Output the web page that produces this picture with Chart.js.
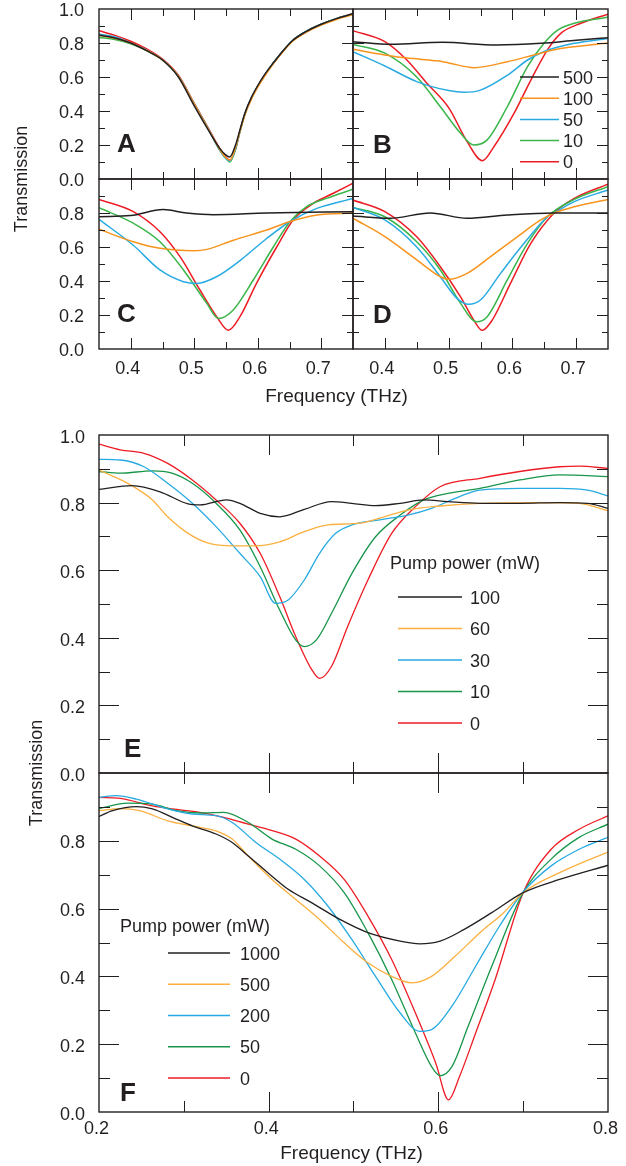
<!DOCTYPE html>
<html><head><meta charset="utf-8">
<script src="https://cdn.jsdelivr.net/npm/chart.js@4/dist/chart.umd.min.js"></script>
<style>
html,body{margin:0;padding:0;background:#fff;width:626px;height:1166px;overflow:hidden}
canvas{position:absolute;left:0;top:0}
</style></head>
<body>
<canvas id="pA" width="626" height="1166"></canvas>
<canvas id="pB" width="626" height="1166"></canvas>
<canvas id="pC" width="626" height="1166"></canvas>
<canvas id="pD" width="626" height="1166"></canvas>
<canvas id="pE" width="626" height="1166"></canvas>
<canvas id="pF" width="626" height="1166"></canvas>
<script>
// ---------- tick labels ----------
const yTickVals = [0.1,0.2,0.3,0.4,0.5,0.6,0.7,0.8,0.9];
const yLabelVals = [0,0.2,0.4,0.6,0.8,1.0];
const yLabelTexts = ['0.0','0.2','0.4','0.6','0.8','1.0'];
const topXTicks = [0.40,0.45,0.50,0.55,0.60,0.65,0.70];
const topXLabelVals = [0.4,0.5,0.6,0.7];
const topXLabelTexts = ['0.4','0.5','0.6','0.7'];
const botXTicks = [0.3,0.4,0.5,0.6,0.7];
const botXLabelVals = [0.2,0.4,0.6,0.8];
const botXLabelTexts = ['0.2','0.4','0.6','0.8'];

// ---------- legends ----------
const legendTop = ['500','100','50','10','0'];
const legendE = ['100','60','30','10','0'];
const legendF = ['1000','500','200','50','0'];

// ---------- panel A (shared frequency grid, THz) ----------
const fA   = [0.35,0.375,0.40,0.425,0.45,0.475,0.50,0.525,0.54,0.55,0.556,0.565,0.572,0.58,0.59,0.60,0.61,0.625,0.64,0.655,0.675,0.70,0.725,0.75];
const tA500= [0.847,0.83,0.80,0.755,0.70,0.60,0.43,0.27,0.18,0.14,0.13,0.20,0.29,0.39,0.48,0.55,0.61,0.685,0.755,0.815,0.865,0.91,0.945,0.972];
const tA100= [0.845,0.828,0.80,0.757,0.70,0.605,0.44,0.275,0.175,0.125,0.11,0.185,0.28,0.38,0.47,0.54,0.60,0.68,0.75,0.81,0.86,0.905,0.94,0.968];
const tA50 = [0.853,0.835,0.80,0.758,0.70,0.605,0.44,0.275,0.17,0.12,0.105,0.18,0.28,0.385,0.475,0.545,0.605,0.685,0.755,0.815,0.865,0.91,0.945,0.97];
const tA10 = [0.833,0.82,0.795,0.755,0.70,0.605,0.44,0.275,0.17,0.12,0.10,0.175,0.28,0.385,0.475,0.545,0.605,0.685,0.755,0.815,0.865,0.91,0.945,0.97];
const tA0  = [0.872,0.845,0.81,0.765,0.705,0.61,0.445,0.28,0.18,0.13,0.11,0.175,0.28,0.385,0.475,0.545,0.605,0.685,0.755,0.815,0.865,0.91,0.945,0.972];

// ---------- panel B ----------
const fB500=[0.35,0.41,0.49,0.575,0.645,0.70,0.75];
const tB500=[0.808,0.792,0.804,0.788,0.798,0.816,0.831];
const fB100=[0.35,0.40,0.424,0.455,0.482,0.50,0.54,0.592,0.634,0.666,0.697,0.75];
const tB100=[0.763,0.73,0.716,0.705,0.695,0.683,0.655,0.69,0.73,0.76,0.778,0.80];
const fB50 =[0.35,0.40,0.45,0.50,0.524,0.55,0.592,0.624,0.65,0.697,0.75];
const tB50 =[0.749,0.665,0.573,0.52,0.51,0.523,0.61,0.70,0.75,0.798,0.827];
const fB10 =[0.35,0.40,0.45,0.487,0.5185,0.5395,0.5605,0.592,0.6235,0.65,0.671,0.697,0.75];
const tB10 =[0.792,0.74,0.60,0.425,0.27,0.20,0.23,0.425,0.66,0.80,0.876,0.916,0.951];
const fB0  =[0.35,0.40,0.4345,0.466,0.50,0.529,0.553,0.571,0.6025,0.629,0.655,0.676,0.7075,0.75];
const tB0  =[0.873,0.808,0.70,0.563,0.42,0.22,0.108,0.19,0.386,0.582,0.76,0.857,0.916,0.97];

// ---------- panel C ----------
const fC500=[0.35,0.40,0.451,0.488,0.53,0.614,0.75];
const tC500=[0.778,0.785,0.82,0.80,0.79,0.80,0.808];
const fC100=[0.35,0.404,0.446,0.50,0.52,0.5615,0.614,0.651,0.693,0.75];
const tC100=[0.704,0.631,0.592,0.578,0.586,0.64,0.70,0.75,0.788,0.80];
const fC50 =[0.35,0.404,0.446,0.483,0.504,0.535,0.572,0.614,0.651,0.693,0.75];
const tC50 =[0.763,0.61,0.465,0.396,0.386,0.425,0.52,0.65,0.75,0.827,0.886];
const fC10 =[0.35,0.404,0.446,0.483,0.5195,0.538,0.5615,0.593,0.6245,0.651,0.677,0.7085,0.75];
const tC10 =[0.831,0.74,0.631,0.465,0.27,0.18,0.23,0.406,0.60,0.75,0.837,0.886,0.94];
const fC0  =[0.35,0.404,0.446,0.4776,0.509,0.5353,0.5537,0.572,0.598,0.6298,0.656,0.6875,0.719,0.75];
const tC0  =[0.88,0.808,0.69,0.543,0.347,0.19,0.11,0.19,0.386,0.60,0.76,0.857,0.916,0.975];

// ---------- panel D ----------
const fD500=[0.35,0.408,0.471,0.529,0.592,0.6655,0.75];
const tD500=[0.782,0.769,0.80,0.769,0.788,0.80,0.80];
const fD100=[0.35,0.40,0.45,0.487,0.50,0.529,0.5657,0.6077,0.6445,0.6655,0.697,0.75];
const tD100=[0.769,0.661,0.524,0.425,0.41,0.445,0.543,0.66,0.759,0.80,0.837,0.88];
const fD50 =[0.35,0.40,0.45,0.487,0.513,0.5316,0.55,0.5815,0.618,0.655,0.6655,0.697,0.75];
const tD50 =[0.833,0.759,0.60,0.425,0.298,0.263,0.288,0.445,0.62,0.778,0.80,0.867,0.935];
const fD10 =[0.35,0.40,0.45,0.487,0.5185,0.5437,0.5605,0.592,0.6235,0.655,0.697,0.75];
const tD10 =[0.833,0.778,0.631,0.465,0.27,0.16,0.19,0.406,0.62,0.778,0.88,0.955];
const fD0  =[0.35,0.40,0.45,0.487,0.5185,0.5395,0.5526,0.5684,0.597,0.6287,0.6655,0.697,0.75];
const tD0  =[0.876,0.808,0.66,0.484,0.308,0.17,0.11,0.17,0.386,0.62,0.80,0.886,0.97];

// ---------- panel E ----------
const fE100=[0.2,0.239,0.272,0.305,0.319,0.35,0.366,0.39,0.413,0.442,0.474,0.498,0.526,0.555,0.583,0.611,0.649,0.696,0.743,0.776,0.8];
const tE100=[0.839,0.85,0.832,0.796,0.793,0.808,0.798,0.768,0.758,0.78,0.803,0.798,0.791,0.798,0.808,0.803,0.798,0.798,0.80,0.798,0.783];
const fE60 =[0.2,0.234,0.263,0.281,0.305,0.329,0.357,0.385,0.413,0.442,0.47,0.507,0.536,0.564,0.602,0.649,0.719,0.766,0.8];
const tE60 =[0.896,0.857,0.808,0.758,0.709,0.68,0.672,0.672,0.684,0.714,0.734,0.739,0.758,0.778,0.79,0.798,0.80,0.798,0.776];
const fE30 =[0.2,0.225,0.253,0.281,0.31,0.338,0.366,0.39,0.408,0.423,0.442,0.46,0.479,0.498,0.531,0.564,0.592,0.625,0.649,0.696,0.743,0.776,0.8];
const tE30 =[0.928,0.926,0.906,0.857,0.798,0.729,0.65,0.581,0.502,0.512,0.571,0.65,0.709,0.734,0.749,0.763,0.783,0.818,0.837,0.842,0.842,0.837,0.82];
const fE10 =[0.2,0.225,0.263,0.286,0.31,0.338,0.366,0.39,0.413,0.432,0.442,0.456,0.474,0.498,0.526,0.555,0.583,0.611,0.649,0.696,0.743,0.8];
const tE10 =[0.892,0.887,0.894,0.887,0.857,0.798,0.719,0.61,0.482,0.393,0.374,0.393,0.472,0.59,0.699,0.763,0.808,0.827,0.842,0.867,0.882,0.877];
const fE0  =[0.2,0.225,0.253,0.281,0.31,0.338,0.366,0.39,0.413,0.432,0.451,0.46,0.474,0.493,0.517,0.545,0.573,0.602,0.649,0.696,0.743,0.766,0.8];
const tE0  =[0.973,0.956,0.946,0.916,0.867,0.808,0.739,0.65,0.522,0.403,0.305,0.28,0.315,0.433,0.571,0.709,0.788,0.847,0.872,0.892,0.906,0.908,0.901];

// ---------- panel F ----------
const fF1000=[0.2,0.216,0.244,0.263,0.291,0.31,0.338,0.357,0.376,0.399,0.423,0.451,0.484,0.517,0.555,0.578,0.602,0.63,0.663,0.70,0.743,0.8];
const tF1000=[0.872,0.889,0.901,0.894,0.864,0.844,0.82,0.795,0.755,0.706,0.657,0.617,0.568,0.529,0.504,0.496,0.504,0.538,0.588,0.647,0.686,0.728];
const fF500=[0.2,0.225,0.248,0.281,0.31,0.338,0.357,0.376,0.404,0.432,0.46,0.489,0.517,0.545,0.569,0.592,0.62,0.649,0.677,0.70,0.743,0.8];
const tF500=[0.889,0.895,0.889,0.859,0.844,0.829,0.805,0.755,0.686,0.627,0.568,0.499,0.44,0.40,0.381,0.40,0.46,0.529,0.588,0.647,0.706,0.767];
const fF200=[0.2,0.22,0.244,0.281,0.31,0.338,0.357,0.385,0.413,0.442,0.47,0.498,0.526,0.555,0.578,0.592,0.616,0.644,0.672,0.70,0.733,0.766,0.8];
const tF200=[0.928,0.933,0.923,0.894,0.879,0.874,0.854,0.795,0.746,0.686,0.607,0.509,0.40,0.292,0.238,0.243,0.312,0.43,0.548,0.649,0.726,0.775,0.81];
const fF50 =[0.2,0.234,0.263,0.291,0.319,0.347,0.376,0.404,0.432,0.46,0.489,0.517,0.545,0.573,0.592,0.602,0.616,0.635,0.663,0.70,0.733,0.766,0.8];
const tF50 =[0.895,0.911,0.908,0.889,0.882,0.884,0.854,0.805,0.775,0.726,0.647,0.529,0.391,0.233,0.134,0.107,0.134,0.252,0.43,0.647,0.746,0.81,0.849];
const fF0  =[0.2,0.225,0.263,0.286,0.319,0.347,0.376,0.399,0.432,0.46,0.489,0.517,0.545,0.573,0.597,0.612,0.625,0.644,0.667,0.70,0.733,0.766,0.8];
const tF0  =[0.928,0.925,0.903,0.894,0.884,0.869,0.849,0.834,0.805,0.755,0.686,0.578,0.45,0.292,0.144,0.036,0.105,0.233,0.391,0.647,0.775,0.834,0.874];

// ---------- styling ----------
const INK = '#231f20';
const FONT = '"Liberation Sans", Arial, Helvetica, sans-serif';
const topColors = ['#231f20','#f7941d','#29abe2','#39b54a','#ed1c24'];
const botColors = ['#231f20','#fbb040','#27aae1','#17964a','#ed1c24'];

function near(a, list){ return list.some(v => Math.abs(v - a) < 1e-6); }

const framePlugin = {
  id: 'frame',
  afterDraw(chart, args, o) {
    const ctx = chart.ctx, ca = chart.chartArea, xs = chart.scales.x, ys = chart.scales.y;
    ctx.save();
    ctx.strokeStyle = INK; ctx.lineWidth = 1;
    ctx.beginPath();
    yTickVals.forEach(v => {
      const y = Math.round(ys.getPixelForValue(v)) + 0.5;
      const len = near(v, yLabelVals) ? o.yLong : o.yShort;
      ctx.moveTo(ca.left, y); ctx.lineTo(ca.left + len, y);
      ctx.moveTo(ca.right, y); ctx.lineTo(ca.right - len, y);
    });
    o.xTicks.forEach(v => {
      const x = Math.round(xs.getPixelForValue(v)) + 0.5;
      const len = near(v, o.xMajor) ? o.xLong : o.xShort;
      ctx.moveTo(x, ca.top); ctx.lineTo(x, ca.top + len);
      ctx.moveTo(x, ca.bottom); ctx.lineTo(x, ca.bottom - len);
    });
    ctx.stroke();
    ctx.lineWidth = 1.4;
    ctx.strokeRect(ca.left, ca.top, ca.right - ca.left, ca.bottom - ca.top);

    ctx.fillStyle = INK;
    ctx.font = '18px ' + FONT;
    if (o.yLabels) {
      ctx.textAlign = 'right'; ctx.textBaseline = 'alphabetic';
      yLabelVals.forEach((v, i) => {
        if (v > o.yLabels.max + 1e-6) return;
        ctx.fillText(yLabelTexts[i], o.yLabels.x, ys.getPixelForValue(v) + o.yLabels.dy);
      });
    }
    if (o.xLabels) {
      ctx.textAlign = 'center'; ctx.textBaseline = 'alphabetic';
      o.xLabels.vals.forEach((v, i) => {
        ctx.fillText(o.xLabels.texts[i], xs.getPixelForValue(v) + o.xLabels.dx, o.xLabels.y);
      });
    }
    if (o.legend) {
      const L = o.legend;
      ctx.textAlign = 'left'; ctx.textBaseline = 'alphabetic';
      if (L.title) ctx.fillText(L.title, L.titleX, L.titleY);
      chart.data.datasets.forEach((ds, i) => {
        const y = L.y0 + i * L.dy;
        ctx.strokeStyle = ds.borderColor; ctx.lineWidth = ds.borderWidth;
        ctx.beginPath(); ctx.moveTo(L.x1, y); ctx.lineTo(L.x2, y); ctx.stroke();
        ctx.fillStyle = INK;
        ctx.fillText(ds.label, L.tx, y + 6.5);
      });
    }
    if (o.letter) {
      ctx.font = 'bold 26px ' + FONT;
      ctx.textAlign = 'left'; ctx.textBaseline = 'alphabetic';
      ctx.fillText(o.letter.text, ca.left + o.letter.dx, ca.bottom - o.letter.dy);
    }
    if (o.xTitle) {
      ctx.font = '19px ' + FONT;
      ctx.textAlign = 'center'; ctx.textBaseline = 'alphabetic';
      ctx.fillText(o.xTitle.text, o.xTitle.x, o.xTitle.y);
    }
    if (o.yTitle) {
      ctx.font = '18px ' + FONT;
      ctx.translate(o.yTitle.x, o.yTitle.y);
      ctx.rotate(-Math.PI / 2);
      ctx.textAlign = 'center'; ctx.textBaseline = 'alphabetic';
      ctx.fillText(o.yTitle.text, 0, 0);
    }
    ctx.restore();
  }
};

function ser(label, f, t, color, w) {
  return { label, data: f.map((x, i) => ({ x, y: t[i] })), borderColor: color, borderWidth: w,
           pointRadius: 0, fill: false, cubicInterpolationMode: 'monotone' };
}

function panel(id, rect, xr, datasets, deco) {
  return new Chart(document.getElementById(id), {
    type: 'line',
    data: { datasets },
    options: {
      responsive: false, animation: false, devicePixelRatio: 1, events: [],
      layout: { padding: { left: rect[0], top: rect[1], right: 626 - rect[2], bottom: 1166 - rect[3] } },
      scales: {
        x: { type: 'linear', display: false, min: xr[0], max: xr[1] },
        y: { type: 'linear', display: false, min: 0, max: 1 }
      },
      plugins: { legend: { display: false }, tooltip: { enabled: false }, frame: deco }
    },
    plugins: [framePlugin]
  });
}

const topX = [0.35, 0.75];
const botX = [0.2, 0.8];
const topTicks = { yLong: 11, yShort: 6, xTicks: topXTicks, xMajor: topXLabelVals, xLong: 11, xShort: 7 };
const botTicks = { yLong: 20, yShort: 11, xTicks: botXTicks, xMajor: [0.4, 0.6], xLong: 20, xShort: 11 };
const W1 = 1.5, W2 = 1.3;

panel('pA', [99, 9, 353, 179], topX, [
  ser(legendTop[0], fA, tA500, topColors[0], W1),
  ser(legendTop[1], fA, tA100, topColors[1], W1),
  ser(legendTop[2], fA, tA50,  topColors[2], W1),
  ser(legendTop[3], fA, tA10,  topColors[3], W1),
  ser(legendTop[4], fA, tA0,   topColors[4], W1)
], Object.assign({}, topTicks, { yLabels: { x: 84, dy: 6.8, max: 1.0 }, letter: { text: 'A', dx: 18, dy: 27 } }));

panel('pB', [353, 9, 608, 179], topX, [
  ser(legendTop[0], fB500, tB500, topColors[0], W1),
  ser(legendTop[1], fB100, tB100, topColors[1], W1),
  ser(legendTop[2], fB50,  tB50,  topColors[2], W1),
  ser(legendTop[3], fB10,  tB10,  topColors[3], W1),
  ser(legendTop[4], fB0,   tB0,   topColors[4], W1)
], Object.assign({}, topTicks, { letter: { text: 'B', dx: 20, dy: 26 },
   legend: { x1: 520, x2: 559, tx: 563, y0: 77, dy: 21.2 } }));

panel('pC', [99, 179, 353, 349], topX, [
  ser(legendTop[0], fC500, tC500, topColors[0], W1),
  ser(legendTop[1], fC100, tC100, topColors[1], W1),
  ser(legendTop[2], fC50,  tC50,  topColors[2], W1),
  ser(legendTop[3], fC10,  tC10,  topColors[3], W1),
  ser(legendTop[4], fC0,   tC0,   topColors[4], W1)
], Object.assign({}, topTicks, { yLabels: { x: 84, dy: 6.5, max: 0.8 },
   xLabels: { vals: topXLabelVals, texts: topXLabelTexts, y: 374, dx: -3 },
   letter: { text: 'C', dx: 18, dy: 27 },
   xTitle: { text: 'Frequency (THz)', x: 336.5, y: 402 },
   yTitle: { text: 'Transmission', x: 27, y: 179 } }));

panel('pD', [353, 179, 608, 349], topX, [
  ser(legendTop[0], fD500, tD500, topColors[0], W1),
  ser(legendTop[1], fD100, tD100, topColors[1], W1),
  ser(legendTop[2], fD50,  tD50,  topColors[2], W1),
  ser(legendTop[3], fD10,  tD10,  topColors[3], W1),
  ser(legendTop[4], fD0,   tD0,   topColors[4], W1)
], Object.assign({}, topTicks, { xLabels: { vals: topXLabelVals, texts: topXLabelTexts, y: 374, dx: -3 },
   letter: { text: 'D', dx: 20, dy: 26 } }));

panel('pE', [99, 435, 608, 773], botX, [
  ser(legendE[0], fE100, tE100, botColors[0], W2),
  ser(legendE[1], fE60,  tE60,  botColors[1], W2),
  ser(legendE[2], fE30,  tE30,  botColors[2], W2),
  ser(legendE[3], fE10,  tE10,  botColors[3], W2),
  ser(legendE[4], fE0,   tE0,   botColors[4], W2)
], Object.assign({}, botTicks, { yLabels: { x: 85, dy: 8, max: 1.0 },
   letter: { text: 'E', dx: 25, dy: 16 },
   legend: { title: 'Pump power (mW)', titleX: 390, titleY: 568.5, x1: 398, x2: 462, tx: 470, y0: 597, dy: 31.5 } }));

panel('pF', [99, 773, 608, 1112], botX, [
  ser(legendF[0], fF1000, tF1000, botColors[0], W2),
  ser(legendF[1], fF500,  tF500,  botColors[1], W2),
  ser(legendF[2], fF200,  tF200,  botColors[2], W2),
  ser(legendF[3], fF50,   tF50,   botColors[3], W2),
  ser(legendF[4], fF0,    tF0,    botColors[4], W2)
], Object.assign({}, botTicks, { yLabels: { x: 85, dy: 7.5, max: 0.8 },
   xLabels: { vals: botXLabelVals, texts: botXLabelTexts, y: 1134, dx: -2.5 },
   letter: { text: 'F', dx: 21, dy: 11 },
   xTitle: { text: 'Frequency (THz)', x: 351.5, y: 1159 },
   yTitle: { text: 'Transmission', x: 42, y: 773 },
   legend: { title: 'Pump power (mW)', titleX: 120, titleY: 931.5, x1: 168, x2: 230, tx: 240, y0: 953, dy: 31.25 } }));
</script>
</body></html>
